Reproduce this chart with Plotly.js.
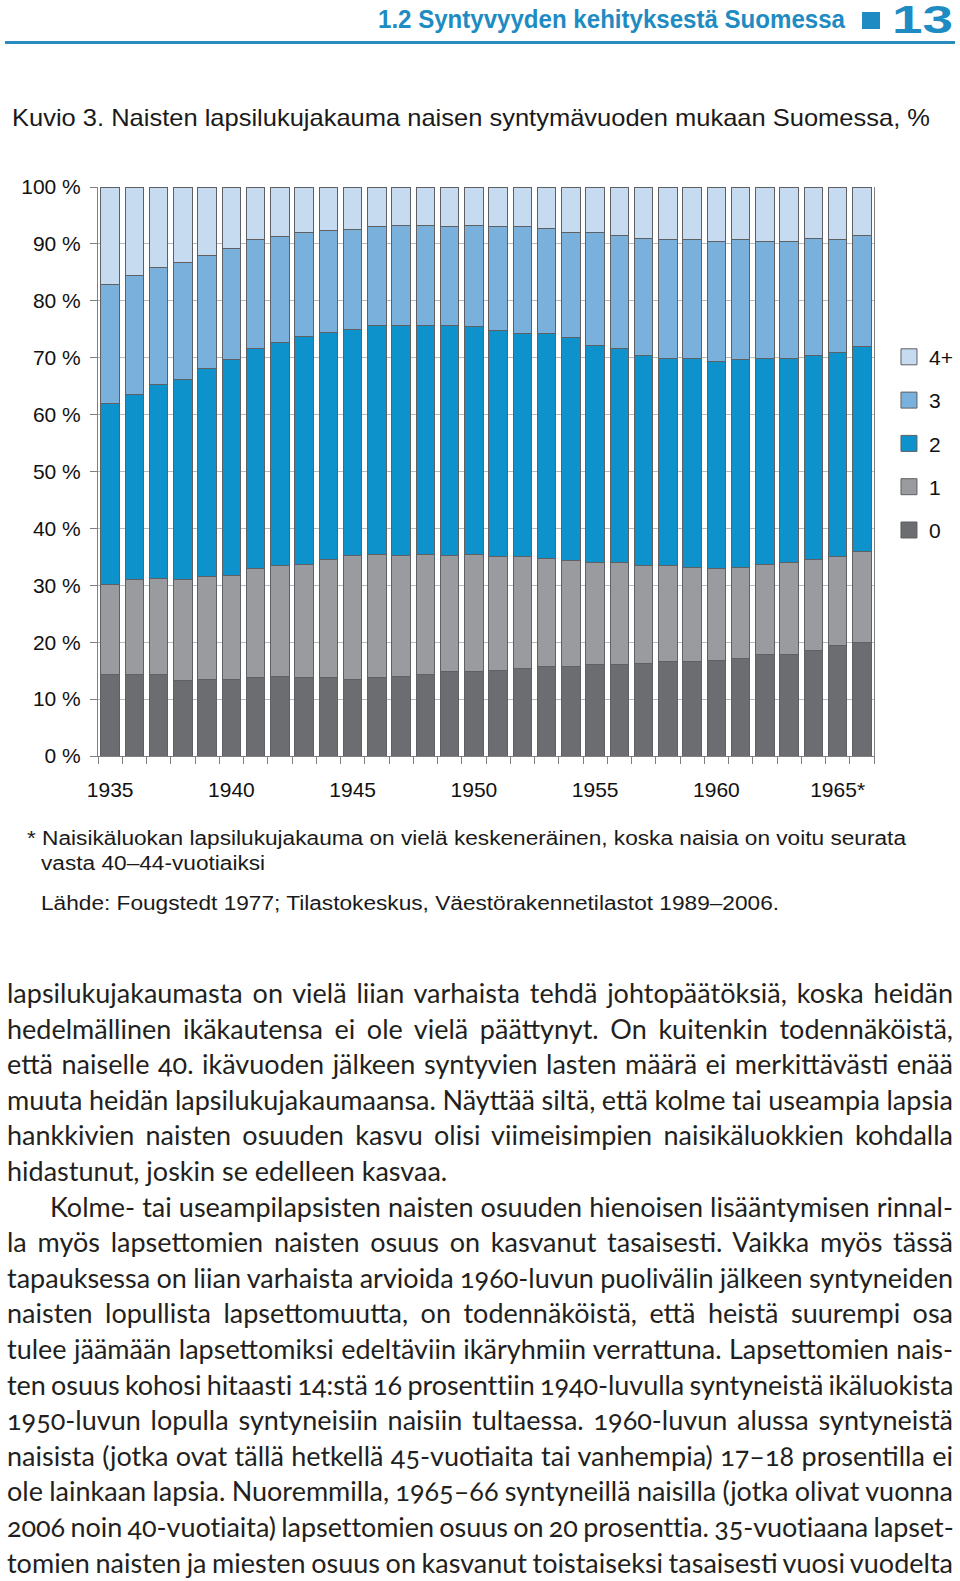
<!DOCTYPE html>
<html>
<head>
<meta charset="utf-8">
<script src="https://cdn.plot.ly/plotly-3.0.1.min.js"></script>
<style>
html,body{margin:0;padding:0;background:#fff;width:960px;height:1581px;overflow:hidden;}
.abs{position:absolute;white-space:nowrap;line-height:1;}
.hdr{font-family:"Liberation Sans",Arial,sans-serif;font-weight:bold;color:#1e8bc3;}
.cap{font-family:"Liberation Sans",Arial,sans-serif;color:#1a1a1a;}
.bl{font-family:Lato,"Open Sans",sans-serif;font-size:27px;color:#231f20;font-variant-numeric:oldstyle-nums;font-feature-settings:"onum" 1;}
</style>
</head>
<body>
<div id="hdrTxt" class="abs hdr" style="left:378px;top:7px;font-size:25px;">1.2 Syntyvyyden kehityksestä Suomessa</div>
<div class="abs" style="left:862px;top:12px;width:18px;height:17px;background:#1e8bc3;"></div>
<div id="pgNum" class="abs hdr" style="left:892px;top:0px;font-size:39px;">13</div>
<div class="abs" style="left:5px;top:41px;width:950px;height:3px;background:#2a8bbf;"></div>

<div id="ttl" class="abs cap" style="left:12px;top:106px;font-size:24px;">Kuvio 3. Naisten lapsilukujakauma naisen syntymävuoden mukaan Suomessa, %</div>

<div id="chart" style="position:absolute;left:0;top:150px;width:960px;height:680px;"></div>

<div id="n1" class="abs cap" style="left:27px;top:829px;font-size:19.5px;">* Naisikäluokan lapsilukujakauma on vielä keskeneräinen, koska naisia on voitu seurata</div>
<div id="n2" class="abs cap" style="left:41px;top:854px;font-size:19.5px;">vasta 40–44-vuotiaiksi</div>
<div id="n3" class="abs cap" style="left:41px;top:894px;font-size:19.5px;">Lähde: Fougstedt 1977; Tilastokeskus, Väestörakennetilastot 1989–2006.</div>

<div id="bodyText"></div>

<script>
// ---- Chart data ----
var years = [1935,1936,1937,1938,1939,1940,1941,1942,1943,1944,1945,1946,1947,1948,1949,1950,
             1951,1952,1953,1954,1955,1956,1957,1958,1959,1960,1961,1962,1963,1964,1965,1966];
var labelYears = [1935,1940,1945,1950,1955,1960,1965];
var labelTexts = ["1935","1940","1945","1950","1955","1960","1965*"];
var seriesNames = ["0","1","2","3","4+"];

var share0 = [14.3,14.3,14.3,13.3,13.5,13.5,13.8,14.0,13.8,13.8,13.5,13.8,14.0,14.3,14.8,14.8,
              15.0,15.3,15.8,15.8,16.1,16.1,16.3,16.6,16.6,16.8,17.1,17.8,17.8,18.6,19.4,19.9];
var share1 = [15.8,16.7,16.9,17.7,18.0,18.2,19.2,19.5,19.9,20.7,21.8,21.7,21.3,21.2,20.5,20.7,
              20.0,19.7,18.9,18.5,17.9,17.9,17.2,16.9,16.6,16.2,16.1,15.9,16.2,15.9,15.6,16.1];
var share2 = [31.9,32.6,34.1,35.1,36.6,37.9,38.7,39.2,40.0,40.0,39.7,40.2,40.4,40.2,40.4,40.0,
              39.8,39.2,39.5,39.2,38.2,37.7,36.9,36.4,36.7,36.4,36.4,36.2,35.9,35.9,35.9,36.0];
var share3 = [20.8,20.8,20.6,20.6,19.8,19.6,19.0,18.6,18.3,17.8,17.5,17.3,17.5,17.5,17.3,17.7,
              18.2,18.8,18.5,18.5,19.8,19.8,20.6,20.8,20.8,21.0,21.1,20.5,20.5,20.6,19.8,19.5];
var share4 = [17.2,15.6,14.1,13.3,12.1,10.8,9.3,8.7,8.0,7.7,7.5,7.0,6.8,6.8,7.0,6.8,
              7.0,7.0,7.3,8.0,8.0,8.5,9.0,9.3,9.3,9.6,9.3,9.6,9.6,9.0,9.3,8.5];

var colors = ["#6c6d70","#9a9b9e","#0e92cb","#7ab0dc","#c6daf0"];
var allShares = [share0, share1, share2, share3, share4];

var traces = allShares.map(function(vals, i){
  return {
    type:"bar", x:years, y:vals, name:seriesNames[i], legendgroup:"g"+i,
    legendrank: allShares.length - i,
    marker:{color:colors[i], line:{color:"#5f6063", width:1}},
    hoverinfo:"skip"
  };
});

var boundaries = years.map(function(y){return y-0.5;}).concat([years[years.length-1]+0.5]);

var layout = {
  width:960, height:680,
  margin:{l:98, r:86, t:37, b:74, autoexpand:false},
  barmode:"stack", bargap:0.24,
  paper_bgcolor:"#ffffff", plot_bgcolor:"#ffffff",
  font:{family:'"Liberation Sans", Arial, sans-serif', size:21, color:"#111111"},
  xaxis:{
    range:[boundaries[0], boundaries[boundaries.length-1]],
    tickmode:"array", tickvals:labelYears, ticktext:labelTexts,
    ticks:"", showgrid:false, zeroline:false,
    showline:true, linecolor:"#808080", linewidth:1,
    ticklabelstandoff:15, automargin:false,
    minor:{tickmode:"array", tickvals:boundaries, ticks:"outside", ticklen:7, tickcolor:"#808080", tickwidth:1, showgrid:false}
  },
  yaxis:{
    range:[0,100], tickmode:"linear", tick0:0, dtick:10, ticksuffix:" %",
    showgrid:true, gridcolor:"#b9b9b9", gridwidth:1, zeroline:false,
    showline:true, mirror:true, linecolor:"#808080", linewidth:1,
    ticks:"outside", ticklen:7, tickcolor:"#808080", ticklabelstandoff:5, automargin:false
  },
  legend:{x:1.0193, xanchor:"left", y:0.737, yanchor:"top",
          traceorder:"grouped", tracegroupgap:13,
          font:{size:21}, bgcolor:"rgba(0,0,0,0)"},
  showlegend:true
};

Plotly.newPlot("chart", traces, layout, {staticPlot:true, displayModeBar:false}).then(function(){
  // slightly larger legend swatches, as in the reference
  document.querySelectorAll("#chart .legendbar, #chart path.legendundefined").forEach(function(p){
    p.setAttribute("d", "M8,8H-8V-8H8Z");
  });
});

// ---- Body text ----
var bodyLines = [
  ["lapsilukujakaumasta on vielä liian varhaista tehdä johtopäätöksiä, koska heidän", 0, true],
  ["hedelmällinen ikäkautensa ei ole vielä päättynyt. On kuitenkin todennäköistä,", 0, true],
  ["että naiselle 40. ikävuoden jälkeen syntyvien lasten määrä ei merkittävästi enää", 0, true],
  ["muuta heidän lapsilukujakaumaansa. Näyttää siltä, että kolme tai useampia lapsia", 0, true],
  ["hankkivien naisten osuuden kasvu olisi viimeisimpien naisikäluokkien kohdalla", 0, true],
  ["hidastunut, joskin se edelleen kasvaa.", 0, false],
  ["Kolme- tai useampilapsisten naisten osuuden hienoisen lisääntymisen rinnal-", 43, true],
  ["la myös lapsettomien naisten osuus on kasvanut tasaisesti. Vaikka myös tässä", 0, true],
  ["tapauksessa on liian varhaista arvioida 1960-luvun puolivälin jälkeen syntyneiden", 0, true],
  ["naisten lopullista lapsettomuutta, on todennäköistä, että heistä suurempi osa", 0, true],
  ["tulee jäämään lapsettomiksi edeltäviin ikäryhmiin verrattuna. Lapsettomien nais-", 0, true],
  ["ten osuus kohosi hitaasti 14:stä 16 prosenttiin 1940-luvulla syntyneistä ikäluokista", 0, true],
  ["1950-luvun lopulla syntyneisiin naisiin tultaessa. 1960-luvun alussa syntyneistä", 0, true],
  ["naisista (jotka ovat tällä hetkellä 45-vuotiaita tai vanhempia) 17–18 prosentilla ei", 0, true],
  ["ole lainkaan lapsia. Nuoremmilla, 1965–66 syntyneillä naisilla (jotka olivat vuonna", 0, true],
  ["2006 noin 40-vuotiaita) lapsettomien osuus on 20 prosenttia. 35-vuotiaana lapset-", 0, true],
  ["tomien naisten ja miesten osuus on kasvanut toistaiseksi tasaisesti vuosi vuodelta", 0, true]
];

function layoutText(){
  var host = document.getElementById("bodyText");
  var left0 = 7, right0 = 953, top0 = 979, step = 35.6;
  bodyLines.forEach(function(l, i){
    var d = document.createElement("div");
    d.className = "abs bl";
    d.textContent = l[0];
    d.style.left = (left0 + l[1]) + "px";
    d.style.top = (top0 + i*step) + "px";
    host.appendChild(d);
    if (l[2]) {
      var target = right0 - left0 - l[1];
      var w = d.getBoundingClientRect().width;
      var nSp = (l[0].match(/ /g) || []).length;
      var ws = (target - w) / nSp;
      if (ws < -1.5) {
        var extra = target - w + 1.5*nSp;
        d.style.letterSpacing = (extra / l[0].length) + "px";
        ws = -1.5;
      }
      d.style.wordSpacing = ws + "px";
    }
  });

  function fit(id, target){
    var el = document.getElementById(id);
    var w = el.getBoundingClientRect().width;
    el.style.transformOrigin = "0 0";
    el.style.transform = "scaleX(" + (target / w) + ")";
    return target / w;
  }
  fit("hdrTxt", 467);
  fit("pgNum", 61);
  fit("ttl", 918);
  var s = fit("n1", 879);
  ["n2","n3"].forEach(function(id){
    var el = document.getElementById(id);
    el.style.transformOrigin = "0 0";
    el.style.transform = "scaleX(" + s + ")";
  });
}
if (document.fonts && document.fonts.ready) { document.fonts.ready.then(layoutText); } else { layoutText(); }
</script>
</body>
</html>
